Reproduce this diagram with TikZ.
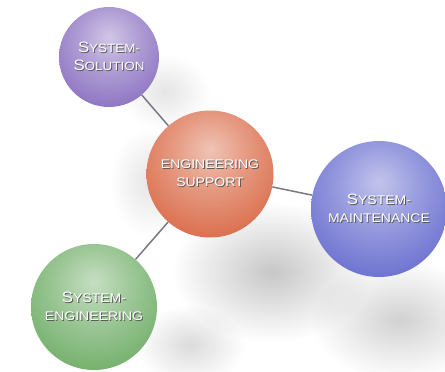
\documentclass[tikz,border=0pt]{standalone}
\usepackage{fontspec}
\newfontfamily\labelfont{Liberation Sans}[FakeStretch=1.12]
\usepackage{tikz}
\usetikzlibrary{fadings}

\definecolor{solColor}{RGB}{122,92,184}
\definecolor{supColor}{RGB}{212,84,44}
\definecolor{maintColor}{RGB}{82,88,200}
\definecolor{engColor}{RGB}{92,162,82}
\definecolor{linkColor}{RGB}{120,122,132}

\makeatletter
\pgfdeclareradialshading[sph@color]{sphere}{\pgfqpoint{0bp}{10bp}}{color(0bp)=(sph@color!35!white); color(15bp)=(sph@color!60!white); color(35bp)=(sph@color!88!white); color(48bp)=(sph@color); color(60bp)=(sph@color!88!black); color(100bp)=(sph@color!70!black)}
\tikzset{sphere/.code={\colorlet{sph@color}{#1}\tikzset{shading=sphere}}}
\makeatother

\tikzfading[name=softblob, inner color=transparent!0, outer color=transparent!100]

% small caps by hand, with a dark shadow under each line
\newcommand{\initcap}[1]{{\fontsize{15}{17}\selectfont #1}}
\newcommand{\shd}[1]{\makebox[0pt][l]{\hspace{0.9pt}\raisebox{-0.9pt}{\textcolor{black!65}{#1}}}#1}

\begin{document}
\begin{tikzpicture}[x=1pt, y=-1pt]
		\useasboundingbox (0,0) rectangle (445,372);

		% soft shadows on the ground
		\fill[black, fill opacity=0.22, path fading=softblob] (272,272) ellipse (100 and 70);
		\fill[black, fill opacity=0.18, path fading=softblob] (400,320) ellipse (90 and 60);
		\fill[black, fill opacity=0.14, path fading=softblob] (190,345) ellipse (55 and 40);
		\fill[black, fill opacity=0.10, path fading=softblob] (165,92) ellipse (45 and 38);
		\fill[black, fill opacity=0.10, path fading=softblob] (150,182) ellipse (40 and 55);

		\node[circle, sphere=solColor, minimum size=100pt, inner sep=0pt, text=white, align=center, font=\labelfont\fontsize{12}{18}\selectfont](sol) at (109,57){\shd{\initcap{S}YSTEM-}\\\shd{\initcap{S}OLUTION}};
		\node[circle, sphere=supColor, minimum size=127pt, inner sep=0pt, text=white, align=center, font=\labelfont\fontsize{12.5}{18}\selectfont](sup) at (210,174){\shd{ENGINEERING}\\\shd{SUPPORT}};
		\node[circle, sphere=maintColor, minimum size=136pt, inner sep=0pt, text=white, align=center, font=\labelfont\fontsize{12.5}{18}\selectfont](maint) at (379,209){\shd{\initcap{S}YSTEM-}\\\shd{MAINTENANCE}};
		\node[circle, sphere=engColor, minimum size=126pt, inner sep=0pt, text=white, align=center, font=\labelfont\fontsize{12.5}{18}\selectfont](eng) at (94,307){\shd{\initcap{S}YSTEM-}\\\shd{ENGINEERING}};

		% draw links
		\draw[linkColor, line width=1.5pt] (sol) -- (sup);
		\draw[linkColor, line width=1.5pt] (sup) -- (maint);
		\draw[linkColor, line width=1.5pt] (sup) -- (eng);

	\end{tikzpicture}
\end{document}
